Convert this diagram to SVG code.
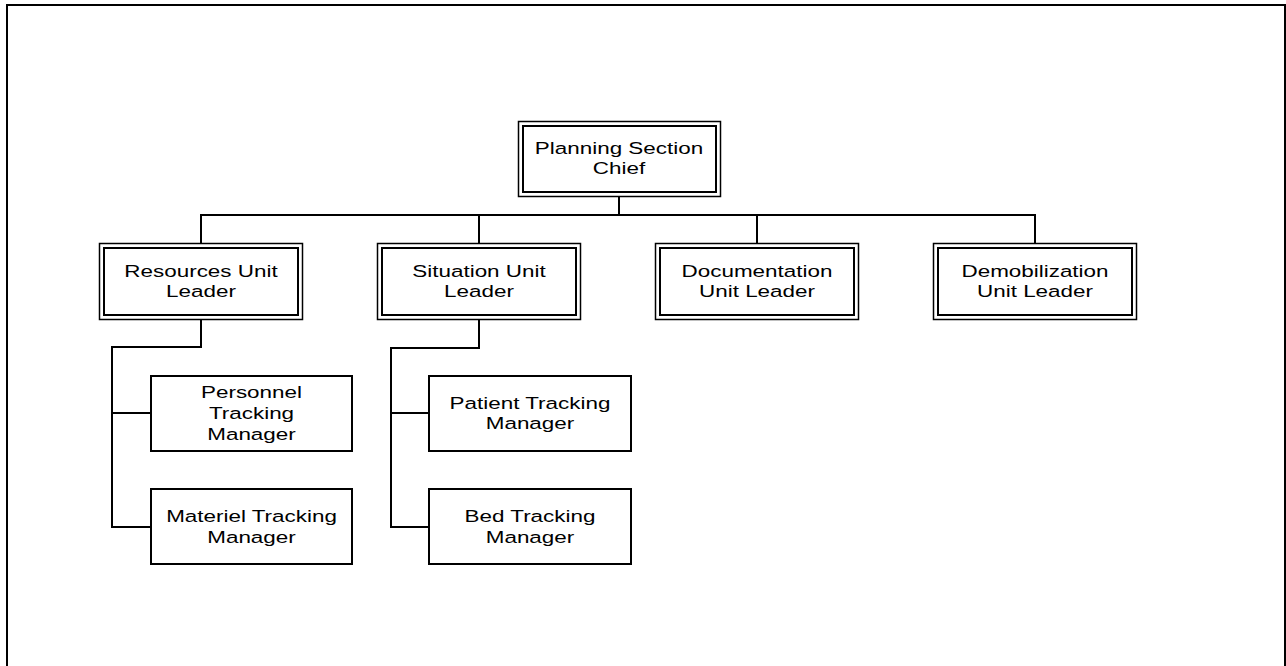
<svg xmlns="http://www.w3.org/2000/svg" width="1286" height="666" viewBox="0 0 1286 666">
<style>
.bg{fill:#ffffff}
.frame{fill:none;stroke:#000;stroke-width:2}
.o{fill:#fff;stroke:#000;stroke-width:1.5}
.i{fill:none;stroke:#000;stroke-width:2}
.b{fill:#fff;stroke:#000;stroke-width:2}
.c{fill:none;stroke:#000;stroke-width:2;stroke-linecap:square}
.t{font-family:"Liberation Sans",Arial,sans-serif;font-size:17px;fill:#000;text-anchor:middle}
</style>
<rect class="bg" x="0" y="0" width="1286" height="666"/>
<path class="frame" d="M7,670 V5 H1285 V670"/>
<g id="connectors">
<path class="c" d="M619,197 V215"/>
<path class="c" d="M201,215 H1035"/>
<path class="c" d="M201,215 V243"/>
<path class="c" d="M479,215 V243"/>
<path class="c" d="M757,215 V243"/>
<path class="c" d="M1035,215 V243"/>
<path class="c" d="M201,320 V347 H112 V527 H150"/>
<path class="c" d="M112,413 H150"/>
<path class="c" d="M479,320 V348 H391 V527 H428"/>
<path class="c" d="M391,413 H428"/>
</g>
<g id="planning-section-chief">
<rect class="o" x="518.5" y="121.5" width="202" height="75"/>
<rect class="i" x="523" y="126" width="193" height="66"/>
<text class="t" transform="translate(619,0) scale(1.32,1)"><tspan x="0" y="154">Planning Section</tspan><tspan x="0" y="174">Chief</tspan></text>
</g>
<g id="resources-unit-leader">
<rect class="o" x="99.5" y="243.5" width="203" height="76"/>
<rect class="i" x="104" y="248" width="194" height="67"/>
<text class="t" transform="translate(201,0) scale(1.32,1)"><tspan x="0" y="277">Resources Unit</tspan><tspan x="0" y="297">Leader</tspan></text>
</g>
<g id="situation-unit-leader">
<rect class="o" x="377.5" y="243.5" width="203" height="76"/>
<rect class="i" x="382" y="248" width="194" height="67"/>
<text class="t" transform="translate(479,0) scale(1.32,1)"><tspan x="0" y="277">Situation Unit</tspan><tspan x="0" y="297">Leader</tspan></text>
</g>
<g id="documentation-unit-leader">
<rect class="o" x="655.5" y="243.5" width="203" height="76"/>
<rect class="i" x="660" y="248" width="194" height="67"/>
<text class="t" transform="translate(757,0) scale(1.32,1)"><tspan x="0" y="277">Documentation</tspan><tspan x="0" y="297">Unit Leader</tspan></text>
</g>
<g id="demobilization-unit-leader">
<rect class="o" x="933.5" y="243.5" width="203" height="76"/>
<rect class="i" x="938" y="248" width="194" height="67"/>
<text class="t" transform="translate(1035,0) scale(1.32,1)"><tspan x="0" y="277">Demobilization</tspan><tspan x="0" y="297">Unit Leader</tspan></text>
</g>
<g id="personnel-tracking-manager">
<rect class="b" x="151" y="376" width="201" height="75"/>
<text class="t" transform="translate(251.5,0) scale(1.32,1)"><tspan x="0" y="398">Personnel</tspan><tspan x="0" y="419">Tracking</tspan><tspan x="0" y="440">Manager</tspan></text>
</g>
<g id="materiel-tracking-manager">
<rect class="b" x="151" y="489" width="201" height="75"/>
<text class="t" transform="translate(251.5,0) scale(1.32,1)"><tspan x="0" y="522">Materiel Tracking</tspan><tspan x="0" y="543">Manager</tspan></text>
</g>
<g id="patient-tracking-manager">
<rect class="b" x="429" y="376" width="202" height="75"/>
<text class="t" transform="translate(530,0) scale(1.32,1)"><tspan x="0" y="409">Patient Tracking</tspan><tspan x="0" y="429">Manager</tspan></text>
</g>
<g id="bed-tracking-manager">
<rect class="b" x="429" y="489" width="202" height="75"/>
<text class="t" transform="translate(530,0) scale(1.32,1)"><tspan x="0" y="522">Bed Tracking</tspan><tspan x="0" y="543">Manager</tspan></text>
</g>
</svg>
